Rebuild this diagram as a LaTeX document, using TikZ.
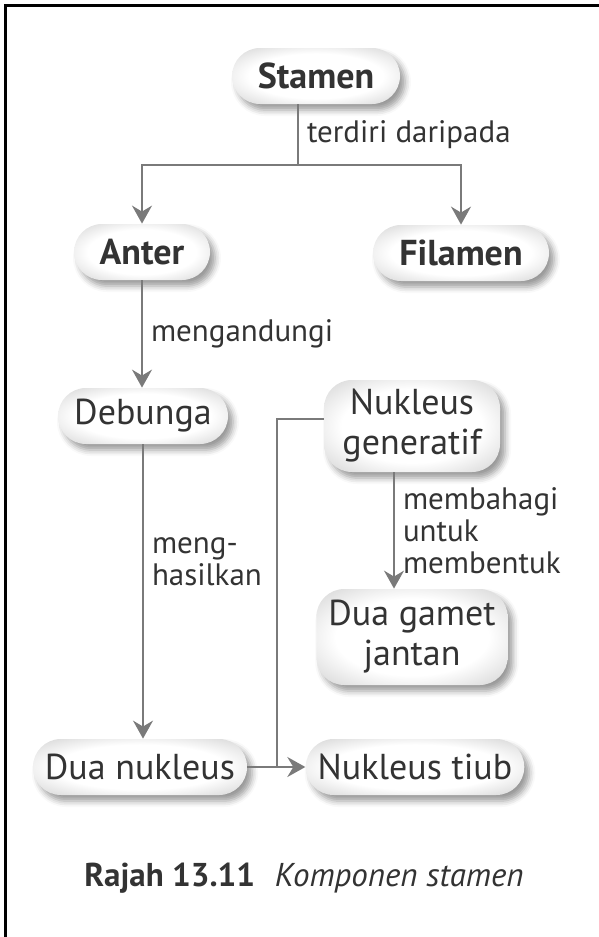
\documentclass[tikz,border=0pt]{standalone}
\usepackage{fontspec}
\setmainfont{PT Sans}
\usepackage{xcolor}
\usetikzlibrary{arrows.meta,shadows.blur}
\definecolor{inkgray}{HTML}{333333}
\definecolor{linkgray}{HTML}{7A7A7A}
\pgfdeclareradialshading{pillglow}{\pgfpoint{0bp}{0bp}}{color(0bp)=(white); color(20bp)=(white); color(46bp)=(black!28); color(72bp)=(black!34)}

\begin{document}
\begin{tikzpicture}[x=0.5pt,y=-0.5pt,
  pill/.style={shade, shading=pillglow, rounded corners=14pt, minimum height=28pt,
    inner xsep=6pt, text=inkgray, align=center,
    font=\fontsize{18}{20}\selectfont,
    blur shadow={shadow xshift=2.5pt, shadow yshift=-3pt, shadow blur radius=3pt, shadow opacity=40}},
  pillbold/.style={pill, font=\fontsize{18}{20}\selectfont\bfseries},
  link/.style={draw=linkgray, line width=1pt},
  tip/.style={-{Stealth[length=9pt,width=10pt,inset=3pt]}},
  lbl/.style={text=inkgray, font=\fontsize{15.5}{16}\selectfont, align=left, inner xsep=4pt}]
\useasboundingbox (0,0) rectangle (599,937);
\draw[line width=1.5pt] (5,937) -- (5,5) -- (599,5);

\node[pillbold, minimum width=84pt] (stamen) at (316,76) {Stamen};
\node[pillbold, minimum width=68pt] (anter) at (142,252) {Anter};
\node[pillbold, minimum width=88pt] (filamen) at (461,253) {Filamen};
\node[pill, minimum width=85pt] (debunga) at (143,416) {Debunga};
\node[pill, minimum width=88pt, minimum height=46pt] (nukgen) at (412,426) {Nukleus\\generatif};
\node[pill, minimum width=88pt, minimum height=48pt] (duagamet) at (412,637) {Dua gamet\\jantan};
\node[pill, minimum width=106pt] (duanuk) at (140,767) {Dua nukleus};
\node[pill, minimum width=105pt] (nuktiub) at (415,767) {Nukleus tiub};

\coordinate (split) at (298,165);
\coordinate (join) at (277,767);
\draw[link] (stamen.south -| split) -- node[lbl, right] {terdiri daripada} (split);
\draw[link, tip] (split) -| (anter.north);
\draw[link, tip] (split) -| (filamen.north);
\draw[link, tip] (anter.south) -- node[lbl, right] {mengandungi} (anter.south |- debunga.north);
\draw[link, tip] (debunga.south) -- node[lbl, right, pos=0.4] {meng-\\hasilkan} (debunga.south |- duanuk.north);
\draw[link, tip] ([xshift=-9pt]nukgen.south) -- node[lbl, right] {membahagi\\untuk\\membentuk} ([xshift=-9pt]duagamet.north);
\draw[link] ([yshift=3.5pt]nukgen.west) -| (join);
\draw[link, tip] (duanuk.east) -- (nuktiub.west);

\node[text=inkgray, font=\fontsize{16.5}{18}\selectfont] (caption) at (304,878)
  {\textbf{Rajah 13.11}\hspace{0.6em}\textit{Komponen stamen}};
\end{tikzpicture}
\end{document}
